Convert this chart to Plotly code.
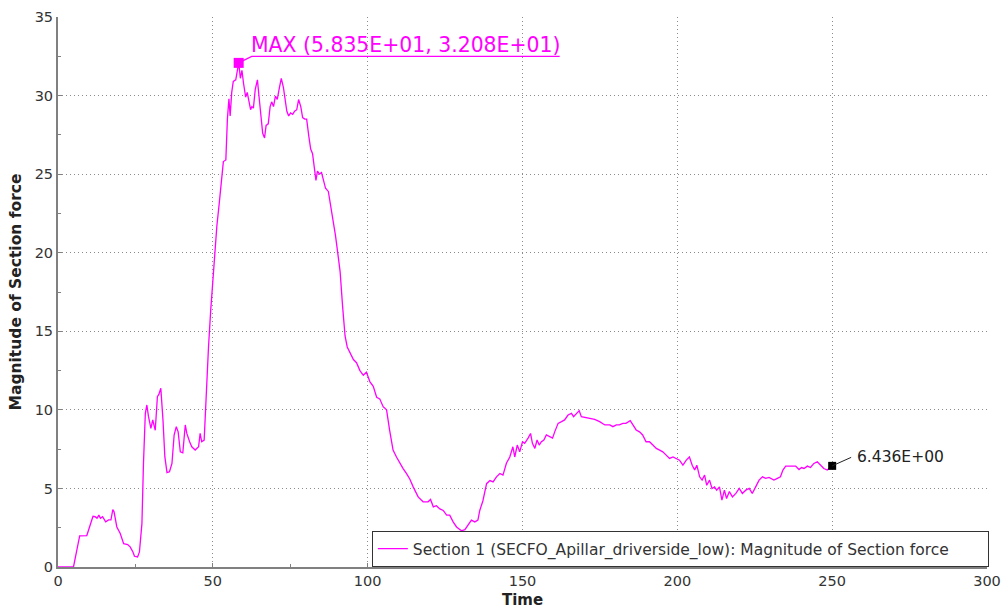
import plotly.graph_objects as go

# Section force history: time and force magnitude
time = [0, 5.0, 6.0, 7.0, 9.3, 10.3, 11.3, 12.0, 12.6, 13.2, 13.7, 14.4, 15.4, 16.3, 17.1, 17.7,
        18.1, 19.0, 20.1, 21.2, 22.5, 23.3, 24.2, 24.7, 25.7, 26.3, 27.1, 27.6, 28.2, 28.7, 29.2,
        30.0, 30.6, 31.4, 32.1, 32.6, 33.2, 33.9, 34.5, 35.2, 36.0, 36.8, 37.5, 38.2, 38.8, 39.5,
        40.3, 41.1, 41.6, 42.5, 43.2, 44.3, 45.4, 45.9, 46.4, 47.2, 47.7, 48.0, 48.6, 49.3, 50.0,
        50.7, 51.3, 52.1, 52.9, 53.4, 54.2, 54.7, 55.2, 55.6, 56.1, 56.6, 57.4, 57.9, 58.35, 58.9,
        59.4, 59.9, 60.6, 61.1, 61.6, 62.2, 62.6, 63.1, 63.7, 64.4, 64.9, 65.6, 66.1, 66.7, 67.2,
        67.9, 68.5, 69.0, 69.6, 70.2, 70.8, 71.5, 72.1, 72.8, 73.3, 73.9, 74.5, 75.1, 75.8, 76.4,
        77.1, 77.7, 78.4, 79.0, 79.7, 80.3, 81.0, 81.6, 82.2, 82.8, 83.3, 83.8, 84.4, 85.1, 85.7,
        86.4, 87.3, 88.2, 89.0, 89.6, 90.2, 91.1, 91.9, 92.7, 93.4, 94.3, 95.4, 96.4, 97.5, 98.6,
        99.6, 100.7, 101.8, 102.9, 103.9, 105.0, 106.1, 107.1, 108.2, 109.3, 110.4, 111.4, 112.5,
        113.6, 114.7, 116.3, 117.9, 119.5, 120.3, 121.2, 122.2, 123.3, 124.4, 125.5, 126.5, 127.6,
        128.7, 130.3, 131.4, 132.4, 133.5, 134.6, 135.6, 136.2, 137.2, 138.4, 139.5, 140.5, 141.6,
        142.7, 143.7, 144.8, 145.9, 146.9, 147.5, 148.3, 149.1, 150.0, 150.7, 151.8, 152.6, 153.2,
        154.0, 154.7, 155.4, 156.1, 156.9, 157.7, 158.8, 159.7, 160.4, 161.5, 162.6, 163.6, 164.7,
        165.8, 166.5, 167.4, 168.3, 169.0, 170.1, 171.7, 173.3, 174.9, 176.6, 178.2, 179.2, 180.3,
        181.3, 182.4, 183.4, 184.8, 185.8, 186.7, 187.8, 188.8, 189.9, 191.0, 192.1, 193.2, 194.3,
        195.3, 196.4, 197.5, 198.6, 199.6, 200.7, 201.8, 202.9, 203.9, 204.8, 205.6, 206.3, 207.2,
        208.0, 208.8, 209.5, 210.4, 211.2, 212.0, 212.7, 213.6, 214.4, 215.2, 215.9, 216.8, 217.8,
        218.9, 220.0, 221.0, 222.1, 223.2, 224.2, 225.3, 226.4, 227.5, 228.5, 229.6, 231.2, 232.3,
        233.3, 234.1, 235.0, 236.6, 238.2, 239.3, 240.1, 240.9, 242.0, 243.0, 244.1, 245.2, 246.2,
        247.3, 248.4, 249.2, 250.0]

force = [0, 0, 1.0, 1.98, 2.0, 2.6, 3.23, 3.2, 3.1, 3.3, 3.1, 3.2, 2.87, 3.0, 3.0, 3.66,
         3.51, 2.55, 2.13, 1.49, 1.43, 1.28, 0.96, 0.68, 0.64, 0.96, 2.76, 6.59, 9.78, 10.31, 9.6,
         8.82, 9.36, 8.7, 10.84, 11.0, 11.38, 9.36, 7.02, 6.0, 6.06, 6.59, 8.4, 8.93, 8.6, 7.33,
         7.27, 9.04, 8.5, 7.97, 7.65, 7.44, 7.65, 8.5, 7.97, 8.08, 10.63, 11.9, 14.0, 16.3, 18.3,
         20.2, 21.7, 23.2, 25.1, 25.8, 25.9, 28.5, 29.8, 28.7, 30.2, 30.9, 31.0, 31.6, 32.08, 31.1,
         31.6, 30.8, 29.9, 30.2, 29.7, 29.1, 29.3, 29.2, 30.4, 31.0, 29.97, 28.5, 27.6, 27.3, 28.1,
         28.2, 29.3, 29.6, 29.3, 29.97, 29.75, 30.5, 31.1, 30.5, 29.9, 29.0, 28.7, 28.9, 28.8, 29.0,
         29.1, 29.75, 29.3, 28.6, 28.5, 28.5, 27.4, 26.6, 26.3, 25.4, 24.6, 25.2, 25.0, 25.1, 24.7,
         24.1, 23.9, 22.9, 22.0, 21.1, 20.2, 18.8, 16.6, 14.7, 14.0, 13.6, 13.2, 13.0, 12.5, 12.2,
         12.4, 11.8, 11.5, 10.8, 10.7, 10.2, 10.0, 8.7, 7.44, 7.0, 6.6, 6.28, 5.96,
         5.6, 5.1, 4.46, 4.15, 4.15, 4.3, 3.83, 3.9, 3.7, 3.6, 3.3, 3.3, 2.87,
         2.55, 2.3, 2.38, 2.66, 2.98, 2.87, 2.98, 3.6, 4.2, 5.3, 5.5, 5.42, 5.74,
         5.95, 5.85, 6.6, 7.0, 7.65, 7.0, 7.76, 7.33, 7.97, 7.87, 8.2, 8.5, 7.87,
         7.55, 8.08, 7.76, 7.97, 8.08, 8.4, 8.3, 8.2, 8.6, 9.14, 9.25, 9.36, 9.67,
         9.78, 9.57, 9.78, 9.95, 9.57, 9.53, 9.46, 9.4, 9.25, 9.04, 9.04, 8.93, 9.04,
         9.04, 9.14, 9.14, 9.31, 9.04, 8.72, 8.6, 8.4, 7.97, 7.97, 7.76, 7.55, 7.44,
         7.33, 7.12, 6.91, 7.0, 6.91, 6.8, 6.48, 6.8, 7.0, 6.48, 6.17, 6.48, 5.74,
         5.53, 5.85, 5.2, 5.53, 5.0, 5.1, 4.89, 5.1, 4.25, 4.89, 4.36, 4.8, 4.46,
         4.68, 5.0, 4.68, 4.89, 5.0, 4.68, 5.1, 5.53, 5.74, 5.64, 5.7, 5.53, 5.64,
         5.74, 6.17, 6.42, 6.42, 6.42, 6.2, 6.33, 6.27, 6.42, 6.33, 6.59, 6.7, 6.48,
         6.27, 6.17, 6.3, 6.436]

series_name = "Section 1 (SECFO_Apillar_driverside_low): Magnitude of Section force"
max_time, max_force = 58.35, 32.08
end_time, end_force = 250.0, 6.436

x_ticks = [0, 50, 100, 150, 200, 250, 300]
y_ticks = [0, 5, 10, 15, 20, 25, 30, 35]

MAGENTA = "#ff00ff"
FONT = "DejaVu Sans"

fig = go.Figure()
fig.add_trace(go.Scatter(
    x=time, y=force, mode="lines", name=series_name,
    line=dict(color=MAGENTA, width=1.3),
))
# peak marker
fig.add_trace(go.Scatter(
    x=[max_time], y=[max_force], mode="markers", showlegend=False,
    marker=dict(symbol="square", size=10, color=MAGENTA),
))
# last-value marker
fig.add_trace(go.Scatter(
    x=[end_time], y=[end_force], mode="markers", showlegend=False,
    marker=dict(symbol="square", size=8, color="black"),
))

# leader lines (pixel offsets from the anchored points)
fig.add_shape(type="path", xref="x", yref="y",
              xsizemode="pixel", ysizemode="pixel",
              xanchor=max_time, yanchor=max_force,
              path="M 4,2 L 13,6.5 L 321,6.5",
              line=dict(color=MAGENTA, width=1.2))
fig.add_shape(type="path", xref="x", yref="y",
              xsizemode="pixel", ysizemode="pixel",
              xanchor=end_time, yanchor=end_force,
              path="M 0,0 L 19,8.5",
              line=dict(color="#222222", width=1))

fig.add_annotation(
    x=max_time, y=max_force, xref="x", yref="y",
    text=f"MAX ({max_time:.3E}, {max_force:.3E})",
    showarrow=False, xanchor="left", yanchor="middle",
    xshift=10, yshift=18,
    font=dict(family=FONT, size=20.4, color=MAGENTA),
)
fig.add_annotation(
    x=end_time, y=end_force, xref="x", yref="y",
    text=f"{end_force:.3E}",
    showarrow=False, xanchor="left", yanchor="middle",
    xshift=23, yshift=8.5,
    font=dict(family=FONT, size=15.5, color="#222222"),
)

axis_common = dict(
    showgrid=True, gridcolor="#8c8c8c", griddash="1px,3px", gridwidth=1,
    showline=True, linecolor="#808080", linewidth=2,
    zeroline=False, ticks="inside", ticklen=4, tickcolor="#808080",
    tickfont=dict(family=FONT, size=14.5, color="#333333"),
)

fig.update_xaxes(
    range=[0, 300], tickvals=x_ticks,
    minor=dict(ticks="inside", dtick=25, ticklen=3, tickcolor="#808080", showgrid=False),
    title=dict(text="<b>Time</b>", font=dict(family=FONT, size=15, color="#222222"), standoff=6),
    **axis_common,
)
fig.update_yaxes(
    range=[0, 35], tickvals=y_ticks,
    minor=dict(ticks="inside", dtick=2.5, ticklen=3, tickcolor="#808080", showgrid=False),
    title=dict(text="<b>Magnitude of Section force</b>",
               font=dict(family=FONT, size=15.5, color="#222222"), standoff=9),
    **axis_common,
)

fig.update_layout(
    width=1006, height=611,
    margin=dict(l=58, r=19, t=17, b=44, autoexpand=False),
    paper_bgcolor="white", plot_bgcolor="white",
    font=dict(family=FONT, size=14, color="#333333"),
    showlegend=True,
    legend=dict(
        orientation="h", entrywidth=570, entrywidthmode="pixels",
        x=1.002, y=0, xanchor="right", yanchor="bottom",
        bgcolor="white", bordercolor="#333333", borderwidth=1,
        font=dict(family=FONT, size=15.5, color="#333333"),
    ),
)

fig.write_html("out.html")
